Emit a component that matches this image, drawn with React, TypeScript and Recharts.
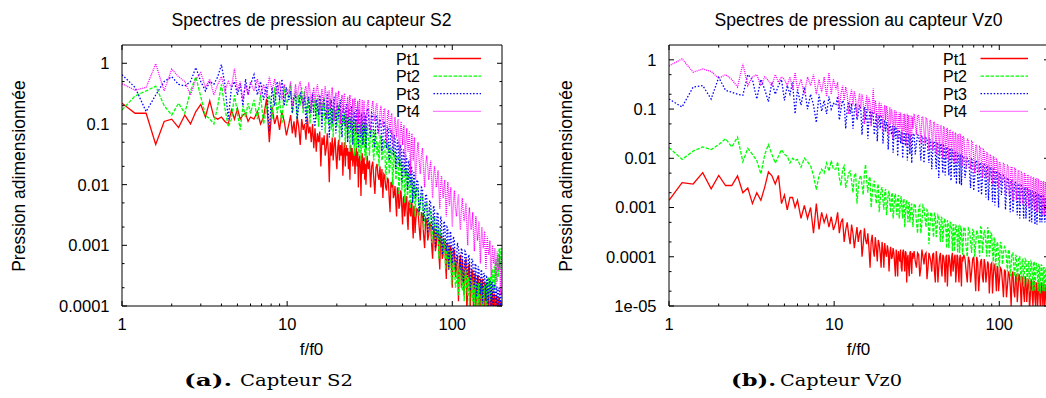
import React from "react";
import { LineChart, Line, XAxis, YAxis } from "recharts";

// ---------- data ----------
const freqs = [
  1, 1.2, 1.4, 1.6, 1.8, 2, 2.2, 2.4, 2.6, 2.8,
  3, 3.2, 3.4, 3.6, 3.8, 4, 4.2, 4.4, 4.6, 4.8,
  5, 5.2, 5.4, 5.6, 5.8, 6,
  6.3, 6.6, 6.9, 7.2, 7.5, 7.8, 8.1, 8.4, 8.7, 9, 9.3, 9.6, 9.9,
  10.25, 10.5, 10.75, 11, 11.25, 11.5, 11.75, 12, 12.25, 12.5,
  12.75, 13, 13.25, 13.5, 13.75, 14, 14.25, 14.5, 14.75, 15,
  15.25, 15.5, 15.75, 16, 16.25, 16.5, 16.75, 17, 17.25, 17.5,
  17.75, 18, 18.25, 18.5, 18.75, 19, 19.25, 19.5, 19.75, 20,
  20.25, 20.5, 20.75, 21, 21.25, 21.5, 21.75, 22, 22.25, 22.5,
  22.75, 23, 23.25, 23.5, 23.75, 24, 24.25, 24.5, 24.75, 25,
  25.25, 25.5, 25.75, 26, 26.25, 26.5, 26.75, 27, 27.25, 27.5,
  27.75, 28, 28.25, 28.5, 28.75, 29, 29.25, 29.5, 29.75, 30,
  30.5, 31, 31.5, 32, 32.5, 33, 33.5, 34, 34.5, 35,
  35.5, 36, 36.5, 37, 37.5, 38, 38.5, 39, 39.5, 40,
  40.5, 41, 41.5, 42, 42.5, 43, 43.5, 44, 44.5, 45,
  45.5, 46, 46.5, 47, 47.5, 48, 48.5, 49, 49.5, 50,
  50.5, 51, 51.5, 52, 52.5, 53, 53.5, 54, 54.5, 55,
  55.5, 56, 56.5, 57, 57.5, 58, 58.5, 59, 59.5, 60,
  61, 62, 63, 64, 65, 66, 67, 68, 69, 70,
  71, 72, 73, 74, 75, 76, 77, 78, 79, 80,
  81, 82, 83, 84, 85, 86, 87, 88, 89, 90,
  91, 92, 93, 94, 95, 96, 97, 98, 99, 100,
  101.5, 103, 104.5, 106, 107.5, 109, 110.5, 112, 113.5, 115,
  116.5, 118, 119.5, 121, 122.5, 124, 125.5, 127, 128.5, 130,
  131.5, 133, 134.5, 136, 137.5, 139, 140.5, 142, 143.5, 145,
  146.5, 148, 149.5, 151, 152.5, 154, 155.5, 157, 158.5, 160,
  161.5, 163, 164.5, 166, 167.5, 169, 170.5, 172, 173.5, 175,
  176.5, 178, 179.5, 181, 182.5, 184, 185.5, 187, 188.5, 190,
  191.5, 193, 194.5, 196, 197.5, 199,
];

// ----- Capteur S2 -----
const s2Pt1 = [
  0.22, 0.15, 0.15, 0.046, 0.11, 0.12, 0.087, 0.14, 0.1, 0.16,
  0.21, 0.13, 0.24, 0.13, 0.12, 0.13, 0.11, 0.1, 0.17, 0.12,
  0.18, 0.12, 0.14, 0.15, 0.11, 0.13,
  0.12, 0.16, 0.1, 0.13, 0.26, 0.05, 0.19, 0.1, 0.14, 0.08, 0.16, 0.11, 0.065,
  0.1, 0.14, 0.07, 0.11, 0.06, 0.13, 0.09, 0.045, 0.12, 0.08,
  0.1, 0.055, 0.13, 0.07, 0.09, 0.05, 0.1, 0.04, 0.085, 0.035,
  0.07, 0.05, 0.075, 0.02, 0.06, 0.045, 0.065, 0.03, 0.04, 0.07,
  0.035, 0.011, 0.05, 0.03, 0.06, 0.025, 0.045, 0.06, 0.03, 0.018,
  0.04, 0.055, 0.025, 0.045, 0.03, 0.05, 0.014, 0.035, 0.05, 0.02,
  0.045, 0.03, 0.04, 0.018, 0.035, 0.012, 0.045, 0.025, 0.04, 0.02,
  0.03, 0.035, 0.015, 0.03, 0.04, 0.02, 0.035, 0.009, 0.025, 0.03,
  0.018, 0.0065, 0.028, 0.033, 0.015, 0.025, 0.028, 0.012, 0.022, 0.01,
  0.03, 0.018, 0.025, 0.009, 0.02, 0.024, 0.012, 0.007, 0.019, 0.022,
  0.014, 0.012, 0.02, 0.009, 0.018, 0.006, 0.015, 0.014, 0.009, 0.008,
  0.013, 0.012, 0.006, 0.0035, 0.011, 0.009, 0.012, 0.006, 0.007, 0.0095,
  0.005, 0.003, 0.009, 0.008, 0.004, 0.0045, 0.008, 0.0075, 0.004, 0.0022,
  0.006, 0.0065, 0.003, 0.004, 0.0065, 0.006, 0.0025, 0.0018, 0.005, 0.0055,
  0.0035, 0.003, 0.0052, 0.0048, 0.002, 0.0013, 0.0045, 0.0042, 0.0016, 0.0024,
  0.004, 0.0038, 0.002, 0.0012, 0.0035, 0.0032, 0.0015, 0.0009, 0.0028, 0.0026,
  0.0012, 0.0015, 0.0024, 0.0022, 0.001, 0.0006, 0.002, 0.0019, 0.0008, 0.001,
  0.0018, 0.0016, 0.0007, 0.0004, 0.0015, 0.0014, 0.0006, 0.0007, 0.0013, 0.0012,
  0.0005, 0.00028, 0.0011, 0.001, 0.0004, 0.0005, 0.001, 0.0009, 0.00035, 0.0002,
  9e-4, 8e-4, 3e-4, 4e-4, 7e-4, 1.2e-4, 5e-4, 7e-4, 2e-4, 6e-4,
  2.5e-4, 1.5e-4, 5e-4, 6e-4, 8e-5, 2e-4, 4.5e-4, 5e-4, 1e-4, 1.8e-4,
  4e-4, 3.5e-4, 7e-5, 2.5e-4, 3.5e-4, 1e-4, 1.5e-4, 3e-4, 3.2e-4, 6e-5,
  1.5e-4, 2.8e-4, 6e-5, 2.2e-4, 2.8e-4, 1.2e-4, 5e-5, 2.5e-4, 2.2e-4, 8e-5,
  2e-4, 2.2e-4, 6e-5, 1e-4, 2e-4, 1.8e-4, 5e-5, 1.2e-4, 1.8e-4, 1.6e-4,
  6e-5, 9e-5, 1.6e-4, 1.4e-4, 4e-5, 6e-5, 1.5e-4, 1.3e-4, 5e-5, 8e-5,
  1.4e-4, 1.3e-4, 5e-5, 1e-4, 1.2e-4, 6e-5,
];
const s2Pt2 = [
  0.17, 0.29, 0.35, 0.42, 0.2, 0.14, 0.22, 0.15, 0.35, 0.6,
  0.28, 0.14, 0.12, 0.1, 0.2, 0.45, 0.18, 0.09, 0.12, 0.3,
  0.15, 0.08, 0.2, 0.13, 0.22, 0.15,
  0.25, 0.12, 0.3, 0.1, 0.18, 0.3, 0.12, 0.4, 0.15, 0.25, 0.1, 0.42, 0.2,
  0.3, 0.45, 0.15, 0.25, 0.35, 0.12, 0.3, 0.2, 0.4, 0.15,
  0.35, 0.2, 0.13, 0.28, 0.1, 0.22, 0.32, 0.15, 0.25, 0.12,
  0.3, 0.09, 0.2, 0.26, 0.12, 0.22, 0.28, 0.07, 0.15, 0.22,
  0.1, 0.2, 0.26, 0.08, 0.18, 0.06, 0.2, 0.12, 0.17, 0.09,
  0.15, 0.2, 0.05, 0.12, 0.16, 0.08, 0.14, 0.1, 0.15, 0.04,
  0.1, 0.14, 0.06, 0.13, 0.1, 0.035, 0.11, 0.13, 0.05, 0.09,
  0.12, 0.03, 0.1, 0.12, 0.04, 0.08, 0.11, 0.05, 0.03, 0.1,
  0.08, 0.025, 0.06, 0.11, 0.04, 0.07, 0.1, 0.03, 0.09, 0.025,
  0.1, 0.06, 0.03, 0.09, 0.08, 0.04, 0.025, 0.075, 0.07, 0.03,
  0.05, 0.02, 0.065, 0.06, 0.025, 0.03, 0.055, 0.05, 0.012, 0.02,
  0.05, 0.045, 0.015, 0.02, 0.04, 0.04, 0.01, 0.018, 0.035, 0.032,
  0.012, 0.015, 0.03, 0.028, 0.007, 0.012, 0.026, 0.024, 0.008, 0.012,
  0.022, 0.02, 0.005, 0.009, 0.018, 0.017, 0.006, 0.008, 0.016, 0.015,
  0.004, 0.006, 0.013, 0.012, 0.005, 0.006, 0.011, 0.01, 0.003, 0.005,
  0.009, 0.008, 0.003, 0.0045, 0.007, 0.0065, 0.0018, 0.003, 0.005, 0.0048,
  0.002, 0.0025, 0.004, 0.0038, 0.0011, 0.0018, 0.003, 0.0028, 0.0012, 0.0015,
  0.0024, 0.0022, 0.0006, 0.001, 0.0018, 0.0016, 0.0008, 0.0007, 0.0013, 0.0012,
  0.0004, 0.0006, 0.001, 0.0009, 0.0005, 0.0004, 0.0008, 0.0007, 0.00022, 0.0003,
  6e-4, 5e-4, 2e-4, 2.5e-4, 5e-4, 1.5e-4, 4e-4, 4.5e-4, 2.5e-4, 1.8e-4,
  4e-4, 1.2e-4, 3.5e-4, 4e-4, 2e-4, 1.5e-4, 3e-4, 1e-4, 2.8e-4, 3e-4,
  1.6e-4, 1.2e-4, 2.8e-4, 9e-5, 2.5e-4, 2.4e-4, 1.4e-4, 1e-4, 2.4e-4, 1e-4,
  2.2e-4, 2.3e-4, 1.2e-4, 9e-5, 2e-4, 8e-5, 2.2e-4, 2.1e-4, 1.2e-4, 9e-5,
  2.5e-4, 1e-4, 2.8e-4, 3e-4, 1.5e-4, 1.2e-4, 3e-4, 1.4e-4, 3.5e-4, 4e-4,
  2e-4, 1.6e-4, 4.5e-4, 2e-4, 5e-4, 6e-4, 3e-4, 2.5e-4, 7e-4, 3e-4,
  8e-4, 9e-4, 4e-4, 5e-4, 9e-4, 6e-4,
];
const s2Pt3 = [
  0.65, 0.4, 0.16, 0.3, 0.5, 0.6, 0.45, 0.42, 0.5, 0.85,
  0.5, 0.35, 0.5, 0.45, 0.6, 0.95, 0.45, 0.12, 0.4, 0.5,
  0.3, 0.45, 0.2, 0.55, 0.3, 0.45,
  0.65, 0.3, 0.5, 0.25, 0.45, 0.075, 0.4, 0.2, 0.5, 0.25, 0.55, 0.2, 0.4,
  0.25, 0.35, 0.15, 0.28, 0.3, 0.12, 0.2, 0.33, 0.25, 0.2,
  0.3, 0.1, 0.22, 0.28, 0.15, 0.2, 0.32, 0.12, 0.09, 0.25,
  0.2, 0.14, 0.3, 0.22, 0.08, 0.2, 0.26, 0.15, 0.12, 0.34,
  0.2, 0.06, 0.18, 0.25, 0.1, 0.2, 0.28, 0.15, 0.07, 0.2,
  0.22, 0.12, 0.18, 0.25, 0.09, 0.06, 0.16, 0.2, 0.12, 0.09,
  0.18, 0.22, 0.05, 0.12, 0.18, 0.1, 0.08, 0.2, 0.14, 0.045,
  0.1, 0.16, 0.12, 0.07, 0.15, 0.19, 0.06, 0.04, 0.17, 0.14,
  0.08, 0.06, 0.15, 0.12, 0.045, 0.09, 0.16, 0.07, 0.14, 0.04,
  0.18, 0.17, 0.08, 0.06, 0.15, 0.14, 0.05, 0.04, 0.14, 0.12,
  0.07, 0.09, 0.12, 0.1, 0.035, 0.06, 0.11, 0.1, 0.05, 0.04,
  0.09, 0.08, 0.025, 0.04, 0.08, 0.07, 0.04, 0.03, 0.065, 0.06,
  0.018, 0.03, 0.055, 0.05, 0.025, 0.02, 0.045, 0.042, 0.011, 0.02,
  0.038, 0.035, 0.018, 0.014, 0.03, 0.028, 0.008, 0.012, 0.025, 0.022,
  0.012, 0.01, 0.02, 0.018, 0.005, 0.008, 0.016, 0.015, 0.007, 0.006,
  0.012, 0.011, 0.0035, 0.005, 0.009, 0.0085, 0.0025, 0.004, 0.007, 0.0065,
  0.0016, 0.003, 0.0055, 0.005, 0.002, 0.0018, 0.0045, 0.004, 0.0009, 0.0016,
  0.0035, 0.0033, 0.0014, 0.0011, 0.003, 0.0027, 0.0007, 0.001, 0.0025, 0.0023,
  0.001, 0.0008, 0.002, 0.0019, 0.0004, 0.0007, 0.0017, 0.0016, 0.0007, 0.0005,
  1.4e-3, 1.2e-3, 4e-4, 6e-4, 1.1e-3, 9e-4, 6e-4, 4e-4, 9e-4, 8e-4,
  2.5e-4, 4e-4, 8e-4, 7.5e-4, 4e-4, 3e-4, 7e-4, 6.5e-4, 1.8e-4, 3e-4,
  6e-4, 5.5e-4, 3e-4, 2e-4, 5e-4, 4.8e-4, 1.4e-4, 2.5e-4, 4.5e-4, 4e-4,
  2.2e-4, 1.6e-4, 4e-4, 3.7e-4, 1.1e-4, 2e-4, 3.5e-4, 3.3e-4, 1.8e-4, 1.2e-4,
  3e-4, 2.9e-4, 1e-4, 1.6e-4, 2.8e-4, 2.6e-4, 1.5e-4, 1e-4, 2.5e-4, 2.4e-4,
  9e-5, 1.4e-4, 2.3e-4, 2.2e-4, 1.3e-4, 9e-5, 2.1e-4, 2e-4, 8e-5, 1.2e-4,
  2e-4, 1.9e-4, 1.2e-4, 1e-4, 1.8e-4, 1.5e-4,
];
const s2Pt4 = [
  0.46, 0.36, 0.4, 0.98, 0.35, 0.8, 0.6, 0.5, 0.3, 0.55,
  0.7, 0.4, 0.55, 0.3, 0.45, 0.6, 0.35, 0.5, 0.4, 0.82,
  0.35, 0.5, 0.25, 0.45, 0.3, 0.5,
  0.35, 0.55, 0.3, 0.45, 0.28, 0.6, 0.35, 0.55, 0.3, 0.5, 0.25, 0.45, 0.3,
  0.35, 0.5, 0.2, 0.3, 0.45, 0.25, 0.42, 0.5, 0.3, 0.18,
  0.35, 0.42, 0.25, 0.48, 0.35, 0.15, 0.3, 0.4, 0.22, 0.35,
  0.45, 0.3, 0.14, 0.25, 0.38, 0.2, 0.3, 0.42, 0.25, 0.12,
  0.3, 0.36, 0.18, 0.28, 0.4, 0.22, 0.11, 0.25, 0.33, 0.16,
  0.28, 0.35, 0.2, 0.1, 0.22, 0.3, 0.15, 0.24, 0.32, 0.18,
  0.09, 0.2, 0.28, 0.13, 0.22, 0.3, 0.16, 0.08, 0.18, 0.26,
  0.12, 0.2, 0.27, 0.15, 0.07, 0.16, 0.24, 0.1, 0.2, 0.26,
  0.13, 0.07, 0.15, 0.25, 0.1, 0.18, 0.24, 0.12, 0.08, 0.1,
  0.2, 0.25, 0.1, 0.08, 0.18, 0.24, 0.14, 0.11, 0.2, 0.22,
  0.09, 0.065, 0.16, 0.2, 0.12, 0.09, 0.17, 0.18, 0.07, 0.05,
  0.14, 0.17, 0.1, 0.07, 0.13, 0.15, 0.06, 0.04, 0.1, 0.13,
  0.08, 0.06, 0.1, 0.12, 0.05, 0.03, 0.08, 0.11, 0.07, 0.045,
  0.08, 0.095, 0.04, 0.022, 0.06, 0.085, 0.05, 0.035, 0.06, 0.075,
  0.03, 0.015, 0.05, 0.07, 0.04, 0.025, 0.045, 0.06, 0.02, 0.012,
  0.03, 0.05, 0.025, 0.015, 0.03, 0.04, 0.018, 0.009, 0.022, 0.03,
  0.02, 0.012, 0.018, 0.025, 0.012, 0.006, 0.014, 0.02, 0.014, 0.009,
  0.012, 0.017, 0.008, 0.004, 0.01, 0.014, 0.009, 0.006, 0.009, 0.012,
  0.006, 0.003, 0.007, 0.011, 0.007, 0.0045, 0.007, 0.009, 0.004, 0.002,
  5e-3, 8e-3, 4e-3, 3e-3, 5e-3, 7e-3, 3e-3, 1.8e-3, 4e-3, 6e-3,
  3.5e-3, 2.5e-3, 3.5e-3, 5e-3, 2e-3, 1e-3, 3e-3, 4.2e-3, 2.5e-3, 1.8e-3,
  2.2e-3, 3.5e-3, 1.5e-3, 8e-4, 1.8e-3, 3e-3, 1.8e-3, 1.2e-3, 1.6e-3, 2.5e-3,
  1e-3, 5e-4, 1.2e-3, 2e-3, 1.3e-3, 9e-4, 1.1e-3, 1.7e-3, 7e-4, 4e-4,
  9e-4, 1.4e-3, 9e-4, 7e-4, 8e-4, 1.2e-3, 5e-4, 3e-4, 6e-4, 1e-3,
  7e-4, 5e-4, 6e-4, 9e-4, 4e-4, 2.2e-4, 5e-4, 8e-4, 5e-4, 4e-4,
  4e-4, 7e-4, 3e-4, 1.5e-4, 4e-4, 6e-4,
];

// ----- Capteur Vz0 -----
const vz0Pt1 = [
  0.0014, 0.0032, 0.003, 0.0051, 0.0024, 0.0045, 0.0028, 0.0028, 0.0044, 0.002,
  0.0025, 0.0012, 0.002, 0.0014, 0.0026, 0.0053, 0.0044, 0.003, 0.0045, 0.0012,
  0.0018, 0.0009, 0.0016, 0.0016, 0.001, 0.0014,
  6e-4, 1.1e-3, 6e-4, 1e-3, 3e-4, 1.2e-3, 3.6e-4, 8e-4, 5e-4, 7e-4, 4e-4, 6.5e-4, 3.5e-4,
  5e-4, 8e-4, 3e-4, 5e-4, 6e-4, 2e-4, 3.5e-4, 5e-4, 2.8e-4, 1.8e-4,
  4.5e-4, 3e-4, 1.5e-4, 2.5e-4, 4e-4, 2e-4, 3e-4, 3.5e-4, 1e-4, 1.8e-4,
  3.8e-4, 2.2e-4, 1.8e-4, 3e-4, 1.5e-4, 6e-5, 2e-4, 2.8e-4, 1.4e-4, 1e-4,
  2.5e-4, 1.5e-4, 8e-5, 2.2e-4, 1.8e-4, 1.2e-4, 6e-5, 2e-4, 1.4e-4, 6e-5,
  1.9e-4, 1.2e-4, 1e-4, 1.7e-4, 1.3e-4, 5e-5, 1.2e-4, 1.6e-4, 9e-5, 1e-4,
  1.5e-4, 1.2e-4, 7e-5, 4e-5, 1.4e-4, 1e-4, 4e-5, 1.3e-4, 1e-4, 8e-5,
  1.4e-4, 6e-5, 5e-5, 1.2e-4, 1.4e-4, 9e-5, 5e-5, 1.3e-4, 1.2e-4, 3e-5,
  9e-5, 1.1e-4, 6e-5, 4e-5, 1.2e-4, 1.3e-4, 7e-5, 4.5e-5, 1.2e-4, 9e-5,
  1.3e-4, 8e-5, 6e-5, 1.2e-4, 1.1e-4, 4e-5, 6e-5, 1.4e-4, 1e-4, 7e-5,
  1.1e-4, 1.2e-4, 3.5e-5, 6e-5, 1.2e-4, 1e-4, 8e-5, 5e-5, 1.1e-4, 1.2e-4,
  5e-5, 3e-5, 1.3e-4, 9e-5, 3e-5, 6e-5, 1e-4, 1.2e-4, 6e-5, 4e-5,
  1.1e-4, 1e-4, 7e-5, 3e-5, 1e-4, 1.1e-4, 2.5e-5, 6e-5, 1.1e-4, 9e-5,
  6e-5, 4e-5, 1e-4, 1.2e-4, 5e-5, 7e-5, 1e-4, 1.1e-4, 3e-5, 5e-5,
  1.1e-4, 1e-4, 5e-5, 3e-5, 9e-5, 1.1e-4, 5e-5, 2.5e-5, 1e-4, 8e-5,
  1.1e-4, 9e-5, 5e-5, 3e-5, 1e-4, 8e-5, 3e-5, 5e-5, 9e-5, 1e-4,
  5e-5, 2e-5, 1e-4, 8e-5, 2e-5, 4e-5, 8e-5, 9e-5, 4e-5, 3e-5,
  9e-5, 7e-5, 3e-5, 4.5e-5, 8e-5, 7e-5, 1.8e-5, 4e-5, 7e-5, 7.5e-5,
  1.8e-5, 4e-5, 7e-5, 6.5e-5, 4e-5, 2e-5, 6.5e-5, 6e-5, 2e-5, 3e-5,
  6e-5, 5.5e-5, 3e-5, 1.5e-5, 5.5e-5, 5e-5, 1.5e-5, 2.5e-5, 5e-5, 4.5e-5,
  2.5e-5, 1e-5, 4.5e-5, 5e-5, 2e-5, 1.5e-5, 4e-5, 4.5e-5, 1.2e-5, 2.2e-5,
  4.5e-5, 4e-5, 2.2e-5, 8e-6, 3.5e-5, 4e-5, 1.8e-5, 1.2e-5, 4e-5, 3.5e-5,
  1.2e-5, 2e-5, 3.5e-5, 3e-5, 8e-6, 1.5e-5, 3.5e-5, 3e-5, 1.5e-5, 1e-5,
  3e-5, 3.2e-5, 1.4e-5, 1e-5, 3e-5, 2.8e-5, 9e-6, 1.6e-5, 3e-5, 2.5e-5,
  1.2e-5, 8e-6, 2.8e-5, 3e-5, 1.5e-5, 9e-6, 2.6e-5, 2.8e-5, 1e-5, 1.4e-5,
  2.8e-5, 2.5e-5, 9e-6, 1.2e-5, 2.5e-5, 1.8e-5,
];
const vz0Pt2 = [
  0.0165, 0.0095, 0.014, 0.017, 0.015, 0.019, 0.025, 0.017, 0.027, 0.0085,
  0.016, 0.012, 0.009, 0.0048, 0.012, 0.019, 0.012, 0.008, 0.011, 0.015,
  0.012, 0.011, 0.008, 0.01, 0.009, 0.0095,
  0.0066, 0.01, 0.0085, 0.007, 0.0045, 0.0023, 0.0045, 0.006, 0.005, 0.008, 0.0055, 0.009, 0.006,
  0.006, 0.0085, 0.004, 0.0028, 0.006, 0.007, 0.0025, 0.0035, 0.005, 0.0055,
  0.0035, 0.002, 0.0045, 0.005, 0.0012, 0.0025, 0.004, 0.0045, 0.0028, 0.0018,
  0.005, 0.0075, 0.0035, 0.002, 0.0038, 0.0042, 0.001, 0.0018, 0.003, 0.0035,
  0.0018, 0.0012, 0.0025, 0.003, 0.0008, 0.0014, 0.0023, 0.0026, 0.0014, 0.0009,
  0.002, 0.0024, 0.0007, 0.0011, 0.0019, 0.0022, 0.0012, 0.0008, 0.0018, 0.002,
  0.0006, 0.0009, 0.0017, 0.0019, 0.001, 0.0007, 0.0016, 0.0018, 0.0006, 0.0008,
  0.0015, 0.0017, 0.0009, 0.0006, 0.0014, 0.0015, 0.0004, 0.0007, 0.0013, 0.0014,
  0.0008, 0.0005, 0.0012, 0.0013, 0.0005, 0.0007, 0.0011, 0.0012, 0.0007, 0.0004,
  1.2e-3, 1.1e-3, 5e-4, 3e-4, 1e-3, 1.1e-3, 3e-4, 5e-4, 1.1e-3, 1e-3,
  6e-4, 4e-4, 9e-4, 8.5e-4, 1.8e-4, 4e-4, 8e-4, 7.5e-4, 4e-4, 2.5e-4,
  7.5e-4, 7e-4, 2.5e-4, 4e-4, 7e-4, 6.5e-4, 4e-4, 2e-4, 6.5e-4, 6e-4,
  2e-4, 3.5e-4, 6e-4, 5.5e-4, 3.5e-4, 1.5e-4, 5.5e-4, 5e-4, 1.5e-4, 3e-4,
  5e-4, 4.8e-4, 3e-4, 1.3e-4, 4.5e-4, 4.5e-4, 1.3e-4, 2.5e-4, 4.5e-4, 4e-4,
  2.5e-4, 1.2e-4, 4e-4, 4.2e-4, 1.2e-4, 2e-4, 4e-4, 3.8e-4, 2e-4, 1.1e-4,
  4e-4, 3.8e-4, 1.5e-4, 1e-4, 3.8e-4, 3.5e-4, 2e-4, 1.2e-4, 3.5e-4, 3.3e-4,
  1e-4, 1.8e-4, 3.5e-4, 3e-4, 2e-4, 1e-4, 4e-4, 3.8e-4, 1.2e-4, 2e-4,
  3.5e-4, 3e-4, 1.8e-4, 1e-4, 4e-4, 3.5e-4, 1e-4, 1.5e-4, 3e-4, 2.8e-4,
  1.2e-4, 8e-5, 2.5e-4, 2.2e-4, 6e-5, 1e-4, 2e-4, 1.8e-4, 1e-4, 6e-5,
  2e-4, 1.8e-4, 7e-5, 1.2e-4, 1.6e-4, 1.5e-4, 9e-5, 5e-5, 1.4e-4, 1.3e-4,
  4e-5, 7e-5, 1.2e-4, 1.2e-4, 6e-5, 4e-5, 1.1e-4, 1e-4, 3e-5, 6e-5,
  1e-4, 1e-4, 5e-5, 3e-5, 9e-5, 9e-5, 2.5e-5, 5e-5, 9e-5, 8.5e-5,
  5e-5, 3e-5, 8e-5, 8e-5, 2e-5, 4e-5, 8e-5, 7.5e-5, 4e-5, 2e-5,
  8e-5, 7.5e-5, 2e-5, 4e-5, 7.5e-5, 7e-5, 4e-5, 2e-5, 7e-5, 7e-5,
  1.8e-5, 3.5e-5, 7e-5, 6.5e-5, 3.5e-5, 2e-5, 6e-5, 6e-5, 2e-5, 3e-5,
  6e-5, 5.5e-5, 3e-5, 2e-5, 5e-5, 4e-5,
];
const vz0Pt3 = [
  0.16, 0.11, 0.28, 0.3, 0.16, 0.44, 0.24, 0.22, 0.2, 0.19,
  0.5, 0.4, 0.16, 0.4, 0.25, 0.14, 0.35, 0.2, 0.3, 0.4,
  0.15, 0.3, 0.2, 0.35, 0.08, 0.25,
  0.12, 0.28, 0.1, 0.2, 0.12, 0.053, 0.2, 0.09, 0.15, 0.08, 0.18, 0.1, 0.13,
  0.12, 0.18, 0.06, 0.1, 0.15, 0.13, 0.04, 0.1, 0.14, 0.08,
  0.13, 0.04, 0.09, 0.13, 0.06, 0.08, 0.12, 0.1, 0.03, 0.07,
  0.11, 0.06, 0.1, 0.025, 0.06, 0.1, 0.05, 0.09, 0.08, 0.03,
  0.05, 0.08, 0.022, 0.06, 0.075, 0.04, 0.07, 0.065, 0.02, 0.04,
  0.06, 0.035, 0.055, 0.05, 0.015, 0.035, 0.05, 0.04, 0.03, 0.045,
  0.013, 0.03, 0.045, 0.025, 0.04, 0.038, 0.011, 0.025, 0.038, 0.03,
  0.02, 0.035, 0.034, 0.01, 0.02, 0.034, 0.025, 0.018, 0.033, 0.032,
  0.009, 0.018, 0.032, 0.024, 0.012, 0.03, 0.03, 0.008, 0.018, 0.03,
  0.032, 0.012, 0.02, 0.03, 0.029, 0.018, 0.009, 0.028, 0.027, 0.008,
  0.016, 0.026, 0.025, 0.014, 0.008, 0.024, 0.023, 0.006, 0.013, 0.022,
  0.021, 0.012, 0.006, 0.021, 0.02, 0.004, 0.01, 0.02, 0.019, 0.01,
  0.005, 0.018, 0.017, 0.0045, 0.009, 0.017, 0.016, 0.009, 0.0045, 0.016,
  0.015, 0.0035, 0.008, 0.015, 0.014, 0.008, 0.004, 0.014, 0.013, 0.003,
  0.007, 0.013, 0.012, 0.007, 0.003, 0.012, 0.012, 0.0028, 0.006, 0.011,
  0.011, 0.004, 0.006, 0.01, 0.0095, 0.0055, 0.0025, 0.0095, 0.009, 0.0022,
  0.004, 0.009, 0.0085, 0.004, 0.002, 0.008, 0.008, 0.0018, 0.0035, 0.0075,
  0.0075, 0.0035, 0.0016, 0.007, 0.007, 0.0014, 0.003, 0.0065, 0.0065, 0.003,
  0.0013, 0.006, 0.006, 0.0011, 0.0025, 0.0055, 0.0055, 0.0025, 0.001, 0.005,
  5e-3, 1.8e-3, 3e-3, 4.5e-3, 4.3e-3, 9e-4, 2e-3, 4e-3, 3.8e-3, 2e-3,
  8e-4, 3.6e-3, 3.5e-3, 8e-4, 1.6e-3, 3.3e-3, 3.2e-3, 1.6e-3, 7e-4, 3e-3,
  3e-3, 6e-4, 1.3e-3, 2.8e-3, 2.7e-3, 1.3e-3, 6e-4, 2.6e-3, 2.5e-3, 6e-4,
  1.2e-3, 2.4e-3, 2.3e-3, 1.2e-3, 5e-4, 2.2e-3, 2.2e-3, 5e-4, 1e-3, 2.1e-3,
  2.1e-3, 1e-3, 4.5e-4, 2e-3, 2e-3, 4.5e-4, 9e-4, 1.9e-3, 1.9e-3, 9e-4,
  5e-4, 1.8e-3, 1.8e-3, 5e-4, 8e-4, 1.7e-3, 1.7e-3, 8e-4, 5e-4, 1.6e-3,
  1.6e-3, 5e-4, 8e-4, 1.5e-3, 1.5e-3, 6e-4,
];
const vz0Pt4 = [
  0.75, 1.05, 0.56, 0.65, 0.58, 0.42, 0.5, 0.4, 0.28, 0.83,
  0.3, 0.45, 0.5, 0.3, 0.45, 0.38, 0.3, 0.5, 0.35, 0.45,
  0.4, 0.3, 0.45, 0.25, 0.55, 0.25,
  0.4, 0.2, 0.45, 0.3, 0.5, 0.2, 0.4, 0.22, 0.45, 0.18, 0.55, 0.2, 0.4,
  0.25, 0.35, 0.1, 0.2, 0.3, 0.15, 0.28, 0.2, 0.08, 0.18,
  0.25, 0.12, 0.23, 0.16, 0.07, 0.14, 0.21, 0.1, 0.2, 0.14,
  0.05, 0.12, 0.19, 0.09, 0.17, 0.13, 0.045, 0.1, 0.26, 0.08,
  0.15, 0.11, 0.04, 0.09, 0.14, 0.07, 0.13, 0.1, 0.035, 0.08,
  0.12, 0.06, 0.115, 0.09, 0.03, 0.07, 0.11, 0.05, 0.1, 0.08,
  0.025, 0.06, 0.095, 0.045, 0.09, 0.07, 0.022, 0.05, 0.085, 0.04,
  0.085, 0.06, 0.02, 0.045, 0.08, 0.035, 0.08, 0.055, 0.018, 0.04,
  0.08, 0.03, 0.075, 0.05, 0.016, 0.035, 0.075, 0.028, 0.07, 0.04,
  0.08, 0.05, 0.03, 0.075, 0.073, 0.045, 0.02, 0.07, 0.068, 0.035,
  0.02, 0.065, 0.063, 0.035, 0.015, 0.06, 0.058, 0.03, 0.015, 0.055,
  0.053, 0.03, 0.012, 0.05, 0.048, 0.025, 0.012, 0.047, 0.045, 0.025,
  0.01, 0.043, 0.042, 0.02, 0.01, 0.041, 0.04, 0.02, 0.009, 0.038,
  0.037, 0.018, 0.009, 0.035, 0.034, 0.018, 0.008, 0.033, 0.032, 0.015,
  0.008, 0.031, 0.03, 0.015, 0.007, 0.03, 0.029, 0.014, 0.007, 0.028,
  0.027, 0.011, 0.006, 0.025, 0.024, 0.01, 0.006, 0.022, 0.021, 0.01,
  0.005, 0.019, 0.018, 0.009, 0.005, 0.017, 0.016, 0.008, 0.004, 0.015,
  0.014, 0.007, 0.004, 0.013, 0.013, 0.007, 0.0032, 0.012, 0.011, 0.006,
  0.003, 0.011, 0.01, 0.005, 0.0028, 0.0095, 0.009, 0.0045, 0.0025, 0.0085,
  8e-3, 3e-3, 4.5e-3, 7.8e-3, 7.5e-3, 1.8e-3, 4e-3, 7.2e-3, 7e-3, 1.7e-3,
  3e-3, 6.7e-3, 6.5e-3, 1.4e-3, 3e-3, 6.2e-3, 6e-3, 1.4e-3, 2.6e-3, 5.7e-3,
  5.5e-3, 1.2e-3, 2.6e-3, 5.2e-3, 5e-3, 1.2e-3, 2.2e-3, 4.9e-3, 4.8e-3, 1e-3,
  2.2e-3, 4.6e-3, 4.5e-3, 1e-3, 2e-3, 4.3e-3, 4.2e-3, 9e-4, 2e-3, 4.1e-3,
  4e-3, 9e-4, 1.8e-3, 3.9e-3, 3.8e-3, 8e-4, 1.8e-3, 3.7e-3, 3.6e-3, 8e-4,
  1.6e-3, 3.5e-3, 3.4e-3, 7e-4, 1.6e-3, 3.4e-3, 3.3e-3, 7e-4, 1.4e-3, 3.3e-3,
  3.2e-3, 7e-4, 1.4e-3, 3.1e-3, 3e-3, 6e-4,
];

const seriesNames = ["Pt1", "Pt2", "Pt3", "Pt4"];
const seriesColors = ["#ff0000", "#00ff00", "#0000ff", "#ff00ff"];
const seriesDashes = [undefined, "3.5 1.5", "1.5 1.8", "1 1"];

const xTicks = [1, 2, 3, 4, 5, 6, 7, 8, 9, 10, 20, 30, 40, 50, 60, 70, 80, 90, 100];
const xMajor = [1, 10, 100];
const xLabels = ["1", "10", "100"];

const yTicksS2 = [1e-4, 2e-4, 5e-4, 1e-3, 2e-3, 5e-3, 0.01, 0.02, 0.05, 0.1, 0.2, 0.5, 1];
const yMajorS2 = [1e-4, 1e-3, 0.01, 0.1, 1];
const yLabelsS2 = ["0.0001", "0.001", "0.01", "0.1", "1"];

const yTicksVz0 = [1e-5, 2e-5, 5e-5, 1e-4, 2e-4, 5e-4, 1e-3, 2e-3, 5e-3, 0.01, 0.02, 0.05, 0.1, 0.2, 0.5, 1];
const yMajorVz0 = [1e-5, 1e-4, 1e-3, 0.01, 0.1, 1];
const yLabelsVz0 = ["1e-05", "0.0001", "0.001", "0.01", "0.1", "1"];

// ---------- layout ----------
const W = 520;
const H = 398;
const PL = 122;
const PR = 502;
const PT = 45;
const PB = 306;
const LW = 1.3;
const SANS = '"Liberation Sans", Arial, Helvetica, sans-serif';
const SERIF = '"DejaVu Serif", "Liberation Serif", serif';

const majorIndex = (v: number, majors: number[]) =>
  majors.findIndex((m) => Math.abs(Math.log10(v) - Math.log10(m)) < 1e-6);

const BottomTick = (props: any) => {
  const { x, payload } = props;
  const i = majorIndex(payload.value, xMajor);
  const len = i >= 0 ? 5 : 2.5;
  return (
    <g>
      <line x1={x} x2={x} y1={PB} y2={PB - len} stroke="#000" strokeWidth={1} />
      {i >= 0 && (
        <text x={x} y={PB + 24} textAnchor="middle" fontFamily={SANS} fontSize={16.5} fill="#000">
          {xLabels[i]}
        </text>
      )}
    </g>
  );
};

const TopTick = (props: any) => {
  const { x, payload } = props;
  const i = majorIndex(payload.value, xMajor);
  const len = i >= 0 ? 5 : 2.5;
  return <line x1={x} x2={x} y1={PT} y2={PT + len} stroke="#000" strokeWidth={1} />;
};

const makeLeftTick = (majors: number[], labels: string[]) => (props: any) => {
  const { y, payload } = props;
  const i = majorIndex(payload.value, majors);
  const len = i >= 0 ? 5 : 2.5;
  return (
    <g>
      <line x1={PL} x2={PL + len} y1={y} y2={y} stroke="#000" strokeWidth={1} />
      {i >= 0 && (
        <text x={PL - 12.5} y={y + 5.9} textAnchor="end" fontFamily={SANS} fontSize={16.5} fill="#000">
          {labels[i]}
        </text>
      )}
    </g>
  );
};

const makeRightTick = (majors: number[]) => (props: any) => {
  const { y, payload } = props;
  const i = majorIndex(payload.value, majors);
  const len = i >= 0 ? 5 : 2.5;
  return <line x1={PR} x2={PR - len} y1={y} y2={y} stroke="#000" strokeWidth={1} />;
};

type PanelProps = {
  left: number;
  title: string;
  captionTag: string;
  captionText: string;
  tagWidth: number;
  textX: number;
  textWidth: number;
  titleWidth: number;
  yDomain: [number, number];
  yTicks: number[];
  yMajor: number[];
  yLabels: string[];
  series: number[][];
};

const Panel = (p: PanelProps) => {
  const rows = freqs.map((f, i) => ({
    f,
    p1: p.series[0][i],
    p2: p.series[1][i],
    p3: p.series[2][i],
    p4: p.series[3][i],
  }));
  const LeftTick = makeLeftTick(p.yMajor, p.yLabels);
  const RightTick = makeRightTick(p.yMajor);
  const keys = ["p1", "p2", "p3", "p4"];
  return (
    <div style={{ position: "absolute", left: p.left, top: 0, width: W, height: H }}>
      <LineChart width={W} height={H} data={rows} margin={{ top: 35, right: 8, bottom: 62, left: 62 }}>
        <XAxis
          dataKey="f"
          type="number"
          scale="log"
          domain={[1, 200]}
          allowDataOverflow
          ticks={xTicks}
          interval={0}
          tick={BottomTick}
          tickLine={false}
          tickSize={0}
          tickMargin={0}
          height={30}
          axisLine={{ stroke: "#000", strokeWidth: 1 }}
        />
        <XAxis
          xAxisId="top"
          orientation="top"
          dataKey="f"
          type="number"
          scale="log"
          domain={[1, 200]}
          allowDataOverflow
          ticks={xTicks}
          interval={0}
          tick={TopTick}
          tickLine={false}
          tickSize={0}
          tickMargin={0}
          height={10}
          axisLine={{ stroke: "#000", strokeWidth: 1 }}
        />
        <YAxis
          type="number"
          scale="log"
          domain={p.yDomain}
          allowDataOverflow
          ticks={p.yTicks}
          interval={0}
          tick={LeftTick}
          tickLine={false}
          tickSize={0}
          tickMargin={0}
          width={60}
          axisLine={{ stroke: "#000", strokeWidth: 1 }}
        />
        <YAxis
          yAxisId="right"
          orientation="right"
          type="number"
          scale="log"
          domain={p.yDomain}
          allowDataOverflow
          ticks={p.yTicks}
          interval={0}
          tick={RightTick}
          tickLine={false}
          tickSize={0}
          tickMargin={0}
          width={10}
          axisLine={{ stroke: "#000", strokeWidth: 1 }}
        />
        {keys.map((k, i) => (
          <Line
            key={k}
            dataKey={k}
            name={seriesNames[i]}
            type="linear"
            stroke={seriesColors[i]}
            strokeWidth={LW}
            strokeDasharray={seriesDashes[i]}
            dot={false}
            activeDot={false}
            isAnimationActive={false}
          />
        ))}
      </LineChart>
      <svg
        width={W}
        height={H}
        style={{ position: "absolute", left: 0, top: 0, pointerEvents: "none" }}
      >
        <text
          x={(PL + PR) / 2 - 0.5}
          y={25.5}
          textAnchor="middle"
          fontFamily={SANS}
          fontSize={17.5}
          textLength={p.titleWidth}
          lengthAdjust="spacingAndGlyphs"
          fill="#000"
        >
          {p.title}
        </text>
        <text
          x={25}
          y={176}
          transform="rotate(-90 25 176)"
          textAnchor="middle"
          fontFamily={SANS}
          fontSize={17.5}
          fill="#000"
        >
          Pression adimensionnée
        </text>
        <text x={311.5} y={355} textAnchor="middle" fontFamily={SANS} fontSize={17} fill="#000">
          f/f0
        </text>
        {seriesNames.map((n, i) => {
          const ly = 58.5 + i * 17.6;
          return (
            <g key={n}>
              <text x={PR - 82} y={ly + 6} textAnchor="end" fontFamily={SANS} fontSize={16} fill="#000">
                {n}
              </text>
              <line
                x1={PR - 68.5}
                x2={PR - 21}
                y1={ly}
                y2={ly}
                stroke={seriesColors[i]}
                strokeWidth={LW}
                strokeDasharray={seriesDashes[i]}
              />
            </g>
          );
        })}
        <text
          x={184}
          y={386}
          fontFamily={SERIF}
          fontWeight="bold"
          fontSize={16}
          textLength={p.tagWidth}
          lengthAdjust="spacingAndGlyphs"
          fill="#000"
        >
          {p.captionTag}
        </text>
        <text
          x={p.textX}
          y={386}
          fontFamily={SERIF}
          fontSize={16}
          textLength={p.textWidth}
          lengthAdjust="spacingAndGlyphs"
          fill="#000"
        >
          {p.captionText}
        </text>
      </svg>
    </div>
  );
};

export default function App() {
  return (
    <div
      style={{
        position: "absolute",
        left: 0,
        top: 0,
        width: 1046,
        height: 398,
        overflow: "hidden",
        background: "#fff",
      }}
    >
      <Panel
        left={0}
        title="Spectres de pression au capteur S2"
        captionTag="(a)."
        captionText="Capteur S2"
        tagWidth={48}
        textX={240}
        textWidth={113}
        titleWidth={280}
        yDomain={[1e-4, 2]}
        yTicks={yTicksS2}
        yMajor={yMajorS2}
        yLabels={yLabelsS2}
        series={[s2Pt1, s2Pt2, s2Pt3, s2Pt4]}
      />
      <Panel
        left={547}
        title="Spectres de pression au capteur Vz0"
        captionTag="(b)."
        captionText="Capteur Vz0"
        tagWidth={45}
        textX={233}
        textWidth={122}
        titleWidth={288}
        yDomain={[1e-5, 2]}
        yTicks={yTicksVz0}
        yMajor={yMajorVz0}
        yLabels={yLabelsVz0}
        series={[vz0Pt1, vz0Pt2, vz0Pt3, vz0Pt4]}
      />
    </div>
  );
}
